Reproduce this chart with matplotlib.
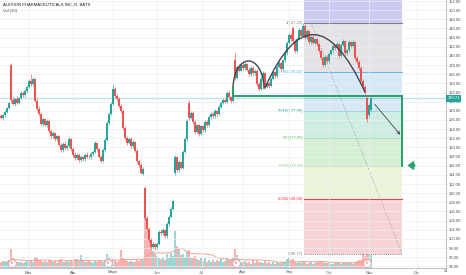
import numpy as np
import pandas as pd
import matplotlib
matplotlib.use('Agg')
import matplotlib.pyplot as plt
from matplotlib.patches import Arc, PathPatch
from matplotlib.path import Path
import matplotlib.transforms as mtransforms

plt.rcParams['font.family'] = ['Liberation Sans', 'DejaVu Sans']

title = 'ALEXION PHARMACEUTICALS INC, D, BATS'
vol_title = 'Vol (20)'

# daily candles, one row per session: open, high, low, close
ohlc = [
    (126.8, 127.2, 126.1, 126.4), (126.4, 127.3, 126.0, 127.0), (127.0, 128.1, 126.7, 127.8),
    (127.8, 128.9, 127.5, 128.6), (128.6, 130.0, 128.3, 129.6), (138.0, 138.4, 129.8, 130.4),
    (130.4, 131.0, 129.2, 129.5), (129.5, 130.9, 129.0, 130.6), (130.6, 131.2, 129.4, 129.8),
    (129.8, 131.1, 129.5, 130.8), (130.8, 132.3, 130.5, 131.9), (131.9, 132.4, 131.0, 131.4),
    (131.4, 132.7, 131.1, 132.3), (132.3, 133.6, 132.0, 133.2), (133.2, 134.9, 132.9, 134.6),
    (134.6, 136.0, 133.5, 133.8), (133.8, 135.3, 133.4, 134.9), (134.9, 135.2, 129.9, 130.2),
    (130.2, 130.8, 128.0, 128.4), (128.4, 129.0, 126.9, 127.3), (127.3, 127.8, 124.8, 125.2),
    (125.2, 126.6, 124.7, 126.1), (126.1, 126.5, 124.6, 125.0), (125.0, 126.2, 124.5, 125.8),
    (125.8, 126.1, 123.2, 123.6), (123.6, 124.0, 121.9, 122.4), (122.4, 123.6, 122.0, 123.1),
    (123.1, 123.4, 121.3, 121.8), (121.8, 122.9, 121.4, 122.5), (122.5, 122.8, 120.2, 120.6),
    (120.6, 121.0, 118.9, 119.4), (119.4, 121.2, 119.0, 120.8), (120.8, 121.3, 119.5, 119.9),
    (119.9, 120.8, 119.4, 120.4), (120.4, 122.2, 120.0, 121.8), (121.8, 122.1, 119.2, 119.6),
    (119.6, 120.0, 118.0, 118.4), (118.4, 118.9, 117.2, 117.7), (117.7, 118.8, 117.3, 118.4),
    (118.4, 118.7, 116.8, 117.2), (117.2, 118.3, 116.9, 117.9), (117.9, 118.2, 117.0, 117.4),
    (117.4, 118.7, 117.1, 118.3), (118.3, 118.9, 117.6, 118.0), (118.0, 118.4, 117.4, 117.8),
    (117.8, 119.0, 117.5, 118.6), (118.6, 119.4, 118.2, 119.1), (119.1, 121.3, 118.8, 120.9),
    (120.9, 121.2, 119.2, 119.6), (119.6, 119.9, 117.7, 118.0), (118.0, 118.3, 116.6, 117.0),
    (117.0, 119.8, 116.8, 119.4), (119.4, 122.0, 119.1, 121.6), (121.6, 125.8, 121.3, 125.4),
    (125.4, 127.7, 125.0, 127.3), (127.3, 129.9, 127.0, 129.5), (129.5, 133.6, 129.2, 132.8),
    (132.8, 133.2, 130.8, 131.2), (131.2, 131.7, 130.2, 130.6), (130.6, 131.0, 128.6, 129.0),
    (129.0, 129.4, 127.5, 127.9), (127.9, 128.3, 123.8, 124.2), (124.2, 124.6, 121.6, 122.0),
    (122.0, 122.5, 120.5, 121.0), (121.0, 122.3, 120.7, 121.8), (121.8, 122.2, 119.8, 120.2),
    (120.2, 121.6, 119.9, 121.1), (121.1, 121.4, 118.9, 119.3), (119.3, 119.7, 116.6, 117.0),
    (117.0, 117.5, 115.8, 116.2), (116.2, 116.6, 114.1, 114.5), (114.2, 115.8, 113.9, 115.3),
    (111.2, 111.6, 104.2, 104.6), (104.6, 105.0, 101.8, 102.2), (102.2, 102.6, 99.4, 99.8),
    (99.8, 100.3, 97.9, 98.3), (98.3, 99.3, 97.8, 98.9), (98.9, 99.2, 97.6, 98.2),
    (98.2, 99.3, 97.8, 98.9), (98.9, 102.0, 98.6, 101.6), (101.6, 102.1, 100.8, 101.2),
    (101.2, 102.4, 100.9, 101.9), (101.9, 102.2, 100.2, 100.6), (100.6, 103.6, 100.3, 103.2),
    (103.2, 105.2, 102.9, 104.8), (104.8, 107.0, 104.5, 106.6), (106.6, 108.6, 106.3, 108.2),
    (114.4, 118.3, 114.0, 117.8), (117.8, 118.2, 114.6, 115.0), (115.0, 117.2, 114.7, 116.8),
    (116.8, 117.1, 115.2, 115.6), (115.6, 119.4, 115.3, 119.0), (119.0, 122.2, 118.7, 121.8),
    (121.8, 126.2, 121.5, 125.8), (129.8, 130.3, 126.0, 126.4), (126.4, 128.0, 126.1, 127.6),
    (127.6, 127.9, 125.2, 125.6), (125.6, 126.0, 123.0, 123.4), (123.4, 125.2, 123.1, 124.8),
    (124.8, 125.1, 122.6, 123.0), (123.0, 125.0, 122.7, 124.6), (124.6, 124.9, 123.3, 123.7),
    (123.7, 126.0, 123.4, 125.6), (125.6, 125.9, 124.5, 124.9), (124.9, 127.0, 124.6, 126.6),
    (126.6, 127.8, 126.3, 127.4), (127.4, 127.7, 126.4, 126.8), (126.8, 128.3, 126.5, 127.9),
    (127.9, 128.2, 126.9, 127.3), (127.3, 129.3, 127.0, 128.9), (128.9, 130.2, 128.6, 129.8),
    (129.8, 130.7, 129.5, 130.3), (130.3, 130.6, 129.6, 130.0), (130.0, 132.4, 129.7, 132.0),
    (132.0, 132.3, 130.6, 131.0), (131.0, 131.3, 129.8, 130.2), (130.2, 133.2, 129.9, 132.8),
    (139.0, 140.6, 134.8, 135.2), (135.2, 138.0, 134.9, 137.6), (137.6, 138.3, 136.4, 136.8),
    (136.8, 138.4, 136.5, 138.0), (138.0, 138.6, 136.9, 137.3), (137.3, 138.7, 137.0, 138.2),
    (138.2, 138.5, 136.6, 137.0), (137.0, 137.4, 135.6, 136.0), (136.0, 137.8, 135.7, 137.4),
    (137.4, 137.7, 135.8, 136.2), (136.2, 137.2, 135.9, 136.8), (136.8, 137.1, 133.4, 133.8),
    (133.8, 134.2, 132.4, 132.8), (132.8, 135.4, 132.5, 135.0), (135.0, 136.6, 134.7, 136.2),
    (136.2, 136.5, 132.8, 133.2), (133.2, 134.4, 132.9, 134.0), (134.0, 134.3, 133.0, 133.4),
    (133.4, 135.4, 133.1, 135.0), (135.0, 136.8, 134.7, 136.4), (136.4, 136.7, 135.2, 135.6),
    (135.6, 138.0, 135.3, 137.6), (137.6, 138.8, 137.3, 138.4), (138.4, 138.7, 136.8, 137.2),
    (137.2, 139.4, 136.9, 139.0), (139.0, 141.0, 138.7, 140.6), (140.6, 143.2, 140.3, 142.8),
    (142.8, 145.0, 142.5, 144.6), (144.6, 145.0, 143.2, 143.6), (146.2, 146.6, 142.8, 143.2),
    (143.2, 143.6, 140.6, 141.0), (141.0, 144.2, 140.7, 143.8), (143.8, 146.0, 143.5, 145.6),
    (145.6, 145.9, 144.0, 144.4), (144.4, 147.22, 144.1, 146.6), (146.6, 146.9, 143.6, 144.0),
    (144.0, 145.8, 143.7, 145.4), (145.4, 145.7, 142.6, 143.0), (143.0, 144.6, 142.7, 144.2),
    (144.2, 144.5, 142.5, 142.9), (142.9, 144.0, 142.6, 143.6), (143.6, 143.9, 142.2, 142.6),
    (142.6, 142.9, 140.6, 141.0), (141.0, 141.3, 139.2, 139.6), (139.6, 140.0, 137.6, 138.0),
    (138.0, 140.2, 137.7, 139.8), (139.8, 140.1, 138.4, 138.8), (138.8, 140.8, 138.5, 140.4),
    (140.4, 141.6, 140.1, 141.2), (141.2, 142.6, 140.9, 142.2), (142.2, 142.5, 141.4, 141.8),
    (141.8, 143.0, 141.5, 142.6), (142.6, 142.9, 139.6, 140.0), (140.0, 142.8, 139.7, 142.4),
    (142.4, 143.6, 142.1, 143.2), (143.2, 143.5, 140.2, 140.6), (140.6, 141.6, 140.3, 141.2),
    (141.2, 143.4, 140.9, 143.0), (143.0, 143.3, 141.8, 142.2), (142.2, 143.4, 141.9, 143.0),
    (143.0, 143.3, 139.2, 139.6), (139.6, 140.0, 138.2, 138.6), (138.6, 139.0, 137.0, 137.4),
    (137.4, 137.8, 134.2, 134.6), (134.6, 135.0, 132.8, 133.2), (133.2, 133.6, 131.4, 131.8),
    (130.8, 131.2, 125.6, 126.2), (127.0, 129.6, 126.7, 129.2), (128.2, 131.0, 127.9, 130.71),
]

# volume in millions of shares, same sessions
volume = [
    1.2, 1.8, 1.4, 1.6, 2.0, 4.8, 2.6, 1.8, 1.5, 1.4,
    1.6, 1.3, 1.5, 1.7, 1.9, 2.0, 1.6, 2.8, 2.4, 1.9,
    2.1, 1.6, 1.8, 1.4, 2.0, 1.9, 1.5, 1.7, 1.3, 2.0,
    2.2, 1.6, 1.4, 1.7, 1.5, 1.9, 1.6, 2.2, 2.3, 2.1,
    3.2, 2.0, 1.6, 1.4, 1.7, 1.5, 1.3, 1.8, 1.6, 1.9,
    1.7, 1.5, 2.1, 3.5, 2.8, 2.0, 2.3, 1.9, 1.6, 1.8,
    4.6, 2.6, 2.2, 1.7, 1.5, 1.8, 1.4, 1.6, 2.0, 1.7,
    2.2, 1.9, 13.0, 11.5, 8.0, 5.5, 4.2, 3.6, 3.0, 2.6,
    2.2, 2.8, 2.0, 3.4, 2.6, 3.8, 3.0, 9.2, 5.6, 4.8,
    3.2, 3.6, 2.8, 4.2, 4.5, 2.6, 2.4, 3.0, 2.2, 2.0,
    2.6, 1.8, 2.4, 1.6, 2.1, 1.5, 1.9, 1.4, 2.0, 1.7,
    2.3, 1.6, 1.8, 2.5, 1.9, 2.2, 2.4, 4.8, 3.2, 2.0,
    1.6, 1.4, 1.7, 1.2, 1.5, 1.1, 1.9, 1.3, 2.0, 1.6,
    1.4, 1.2, 1.7, 1.3, 1.5, 1.1, 1.4, 1.0, 1.6, 1.2,
    1.3, 1.5, 1.4, 2.2, 2.6, 2.0, 2.3, 1.5, 1.3, 1.6,
    1.2, 1.8, 1.4, 1.1, 1.3, 1.5, 1.0, 1.2, 1.4, 1.6,
    1.8, 1.5, 1.3, 1.2, 1.4, 1.1, 1.0, 1.3, 1.2, 1.5,
    1.1, 1.3, 1.4, 1.6, 1.2, 1.3, 1.1, 1.5, 1.7, 1.9,
    2.0, 4.0, 3.0, 4.8, 4.2, 3.2,
]

earnings_idx = [5.5, 53.5, 117.5, 183]

month_pos = [13.5, 36, 56, 78, 100.5, 121, 144, 164, 184, 208]
month_labels = ['Mar', 'Abr', 'Mayo', 'Jun', 'Jul', 'Ago', 'Sep', 'Oct', 'Nov', 'Dic']

# fib retracement anchors and levels
fib_low, fib_high = 96.77, 147.22
fib_levels = [0, 0.236, 0.382, 0.5, 0.618, 0.786, 1]
fib_line_colors = ['#787b86', '#f23645', '#81c784', '#4caf50', '#089981', '#64b5f6', '#787b86']
fib_band_colors = ['#f6d3d5', '#ebf5d9', '#d5f0d4', '#ceeee3', '#d7e9f6', '#e4e4e6']
fib_top_color = '#cacaf2'
fib_x0, fib_x1 = 151.5, 200.5

last_price = 130.71

df = pd.DataFrame(ohlc, columns=['open', 'high', 'low', 'close'])
df['vol'] = volume
df['vol_ma'] = df['vol'].rolling(20, min_periods=1).mean()
x = np.arange(len(df))
up = df['close'] >= df['open']
GREEN, RED = '#26a69a', '#ef5350'
cols = np.where(up, GREEN, RED)

fig = plt.figure(figsize=(4.66, 2.75), dpi=100)
rect = [0, 7 / 275, 446 / 466, 268 / 275]
axv = fig.add_axes(rect)
ax = fig.add_axes(rect, sharex=axv)
ax.set_facecolor('none')
axv.set_zorder(0)
ax.set_zorder(1)

# volume pane
axv.bar(x, df['vol'], width=0.85, color=cols, alpha=0.45, linewidth=0)
axv.plot(x, df['vol_ma'], color='#f4a08c', lw=0.7)
axv.scatter(earnings_idx, [1.3] * len(earnings_idx), s=30, facecolor='white',
            edgecolor='#f19b9b', linewidth=0.6, zorder=5)
for e in earnings_idx:
    axv.text(e, 1.3, 'E', fontsize=2.6, color='#e05a5a', ha='center', va='center', zorder=6)
axv.set_ylim(0, 66.8)
axv.set_yticks([])
for s in axv.spines.values():
    s.set_visible(False)

# grid
ax.set_xlim(-0.5, 222.5)
ax.set_ylim(93.64, 152.22)
ax.set_yticks(np.arange(94, 153, 2))
ax.set_xticks(month_pos)
ax.set_xticklabels(month_labels)
ax.grid(True, color='#eceef3', lw=0.5, zorder=0)
ax.yaxis.tick_right()
ax.tick_params(axis='both', labelsize=3.0, colors='#50535e', length=1.0, width=0.4, pad=0.8)
ax.tick_params(axis='both', color='#b2b5be')
ax.yaxis.set_major_formatter(matplotlib.ticker.FormatStrFormatter('%.2f'))
axv.tick_params(axis='x', bottom=False, labelbottom=False)
for side in ['top', 'left']:
    ax.spines[side].set_visible(False)
ax.spines['right'].set_color('#b2b5be')
ax.spines['bottom'].set_color('#b2b5be')
ax.spines['right'].set_linewidth(0.6)
ax.spines['bottom'].set_linewidth(0.6)
fig.text(446 / 466, 1 - 271.5 / 275, '21', fontsize=3.0, color='#50535e', ha='center', va='center')

# fib bands and levels
prices = [fib_low + l * (fib_high - fib_low) for l in fib_levels]
for i in range(len(prices) - 1):
    ax.fill_between([fib_x0, fib_x1], prices[i], prices[i + 1], color=fib_band_colors[i], lw=0, zorder=0.5)
ax.fill_between([fib_x0, fib_x1], prices[-1], 153, color=fib_top_color, lw=0, zorder=0.5)
for l, p, c in zip(fib_levels, prices, fib_line_colors):
    ls = (0, (1, 1.2)) if l == 0 else '-'
    ax.plot([fib_x0, fib_x1], [p, p], color=c, lw=0.7, ls=ls, zorder=1)
    ax.text(fib_x0 - 0.3, p, '{:g}({:.2f})'.format(l, p), fontsize=3.0, color=c,
            ha='right', va='center', zorder=1)
ax.plot([155, fib_x1], [fib_high, fib_low], color='#9598a1', lw=0.6, ls=(0, (1, 1.5)), zorder=1)

# last price line
ax.axhline(last_price, color=GREEN, alpha=0.3, lw=1.0, zorder=1)

# candles
ax.vlines(x, df['low'], df['high'], colors=cols, lw=0.45, zorder=3)
body = (df['close'] - df['open']).abs().clip(lower=0.15)
ax.bar(x, body, bottom=df[['open', 'close']].min(axis=1), width=0.72, color=cols, lw=0, zorder=3)

# drawings
ax.add_patch(Arc((123.75, 132.8), 15.5, 12.2, theta1=0, theta2=180, color='#434651', lw=1.0, zorder=4))
big = Path([(132, 132.98), (156, 156.8), (182, 132.1)], [Path.MOVETO, Path.CURVE3, Path.CURVE3])
ax.add_patch(PathPatch(big, fill=False, edgecolor='#434651', lw=1.0, zorder=4))

box_green = '#27a06a'
ax.plot([116, 116, fib_x1, fib_x1], [132.9, 131.2, 131.2, prices[2]], color=box_green, lw=1.4,
        solid_joinstyle='miter', zorder=5)
ax.annotate('', xy=(fib_x1, 122.3), xytext=(186, 129.9),
            arrowprops=dict(arrowstyle='->', color='#434651', lw=0.6, mutation_scale=5), zorder=5)
ax.annotate('', xy=(201.8, prices[2]), xytext=(208.5, prices[2]),
            arrowprops=dict(arrowstyle='simple,head_width=1.0,head_length=0.7,tail_width=0.35',
                            mutation_scale=7, color=box_green, lw=0),
            annotation_clip=False, zorder=5)

# price tag on axis
trans = mtransforms.blended_transform_factory(ax.transAxes, ax.transData)
ax.text(1.003, last_price, '{:.2f}'.format(last_price), transform=trans, fontsize=3.0,
        color='white', ha='left', va='center', zorder=10,
        bbox=dict(boxstyle='square,pad=0.35', fc=GREEN, ec='none'), clip_on=False)

fig.text(3 / 466, 1 - 5 / 275, title, fontsize=3.0, color='#131722', ha='left', va='center')
fig.text(3 / 466, 1 - 11 / 275, vol_title, fontsize=3.0, color='#50535e', ha='left', va='center')

fig.savefig('out.png', dpi=100)
